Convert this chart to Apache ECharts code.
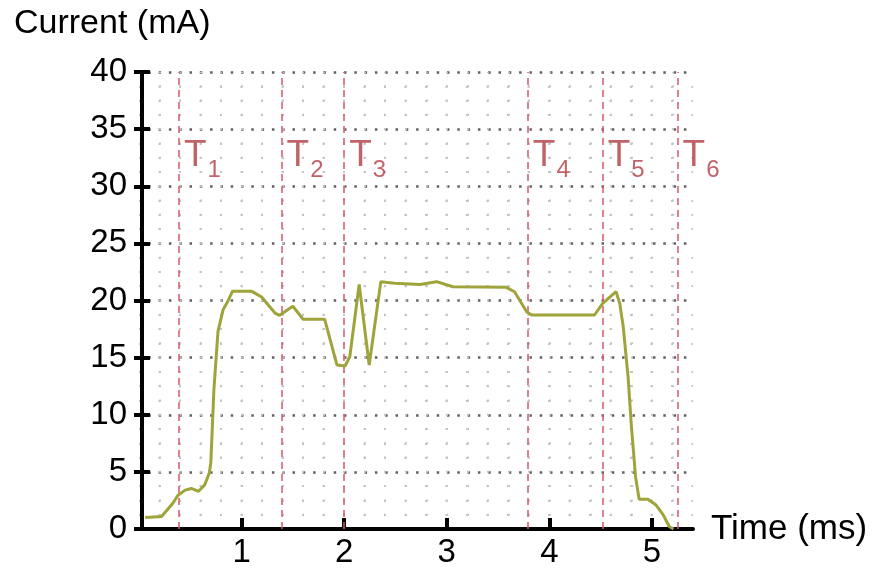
<!DOCTYPE html>
<html>
<head>
<meta charset="utf-8">
<style>
  html, body { margin: 0; padding: 0; background: #fff; }
  #chart { width: 873px; height: 569px; }
</style>
<script src="https://cdn.jsdelivr.net/npm/echarts@6/dist/echarts.min.js"></script>
</head>
<body>
<div id="chart"></div>
<script>
// Supply current trace over one operating cycle
const timeMs = [0.06, 0.22, 0.33, 0.38, 0.45, 0.51, 0.58, 0.64, 0.685, 0.70, 0.73, 0.77, 0.82, 0.87, 0.91,
  1.10, 1.195, 1.325, 1.37, 1.50, 1.60, 1.81, 1.93, 2.01, 2.055, 2.146, 2.244, 2.357, 2.49, 2.74, 2.90,
  3.06, 3.58, 3.66, 3.78, 3.83, 4.44, 4.52, 4.65, 4.686, 4.72, 4.767, 4.80, 4.84, 4.875, 4.96, 5.04,
  5.11, 5.17, 5.21];
const currentMA = [1.0, 1.1, 2.25, 2.95, 3.4, 3.55, 3.3, 3.85, 4.9, 5.8, 12.2, 17.3, 19.2, 20.0, 20.8,
  20.8, 20.3, 18.9, 18.7, 19.5, 18.35, 18.35, 14.35, 14.27, 15.1, 21.4, 14.35, 21.65, 21.5, 21.4, 21.65,
  21.2, 21.15, 20.77, 19.0, 18.73, 18.73, 19.75, 20.77, 19.75, 17.7, 13.33, 8.95, 4.58, 2.6, 2.6, 2.1,
  1.23, 0.2, 0.0];

// Phase boundaries T1..T6 (ms)
const phaseTimes = [0.39, 1.39, 2.0, 3.79, 4.52, 5.25];
const phaseNames = ['1', '2', '3', '4', '5', '6'];
const phaseLabelLevel = 32.3;

const xTickLabels = [1, 2, 3, 4, 5];
const yTickValues = [0, 5, 10, 15, 20, 25, 30, 35, 40];

const FONT = '"Liberation Sans", Arial, sans-serif';
const chart = echarts.init(document.getElementById('chart'), null, { renderer: 'canvas' });

const majorDots = { color: '#606060', width: 2.5, type: [2.5, 7.8], dashOffset: 1 };
const minorDotsH = { color: '#c4c4c4', width: 2, type: [2, 18.5], dashOffset: 1 };
const minorDotsV = { color: '#c4c4c4', width: 2, type: [2, 12.28], dashOffset: 1 };

const yBase = {
  type: 'value', min: 0, max: 40, interval: 5, offset: -3,
  axisLine: { show: true, lineStyle: { color: '#000', width: 4 } },
  minorTick: { show: false, splitNumber: 4 }
};

chart.setOption({
  animation: false,
  backgroundColor: '#fff',
  title: {
    text: 'Current (mA)', left: 9, top: 2,
    textStyle: { fontFamily: FONT, fontSize: 34, fontWeight: 'normal', color: '#000' }
  },
  grid: { left: 139, top: 72, width: 554, height: 457 },
  xAxis: {
    type: 'value', min: 0, max: 5.4, interval: 1,
    name: 'Time (ms)', nameLocation: 'end', nameGap: 18,
    nameTextStyle: { fontFamily: FONT, fontSize: 35, color: '#000', padding: [14, 0, 0, 0] },
    axisLine: { show: true, onZero: false, lineStyle: { color: '#000', width: 4 } },
    axisTick: { show: true, inside: true, length: 11, lineStyle: { width: 4, color: '#000' }, customValues: xTickLabels },
    axisLabel: { fontFamily: FONT, fontSize: 33, color: '#000', margin: 7, customValues: xTickLabels },
    splitLine: { show: true, lineStyle: minorDotsV },
    minorTick: { show: false, splitNumber: 5 },
    minorSplitLine: { show: true, lineStyle: minorDotsV }
  },
  yAxis: [
    Object.assign({}, yBase, {
      axisTick: { show: true, inside: false, length: 8, lineStyle: { width: 4, color: '#000' } },
      axisLabel: { fontFamily: FONT, fontSize: 33, color: '#000', margin: 15, customValues: yTickValues },
      splitLine: { show: true, lineStyle: majorDots },
      minorSplitLine: { show: true, lineStyle: minorDotsH }
    }),
    Object.assign({}, yBase, {
      position: 'left',
      axisTick: { show: true, inside: true, length: 8, lineStyle: { width: 4, color: '#000' } },
      axisLabel: { show: false },
      splitLine: { show: false }
    })
  ],
  series: [
    {
      type: 'line',
      data: timeMs.map((t, i) => [t, currentMA[i]]),
      showSymbol: false, symbol: 'none',
      lineStyle: { color: '#9ea43a', width: 3 },
      z: 5,
      markLine: {
        silent: true, symbol: 'none',
        lineStyle: { color: '#d65a6a', width: 1.5, type: [7, 5] },
        label: { show: false },
        data: phaseTimes.map(t => ({ xAxis: t }))
      }
    },
    {
      type: 'scatter',
      symbolSize: 0,
      data: phaseTimes.map((t, i) => ({ value: [t, phaseLabelLevel], name: phaseNames[i] })),
      label: {
        show: true, position: 'right', distance: 5,
        formatter: p => '{t|T}{s|' + p.name + '}',
        rich: {
          t: { fontFamily: FONT, fontSize: 37, color: '#b03c44', padding: [0, 0, 8, 0] },
          s: { fontFamily: FONT, fontSize: 24, color: '#b03c44', verticalAlign: 'bottom', padding: [0, 0, 0, 1] }
        }
      },
      z: 6
    }
  ]
});
</script>
</body>
</html>
